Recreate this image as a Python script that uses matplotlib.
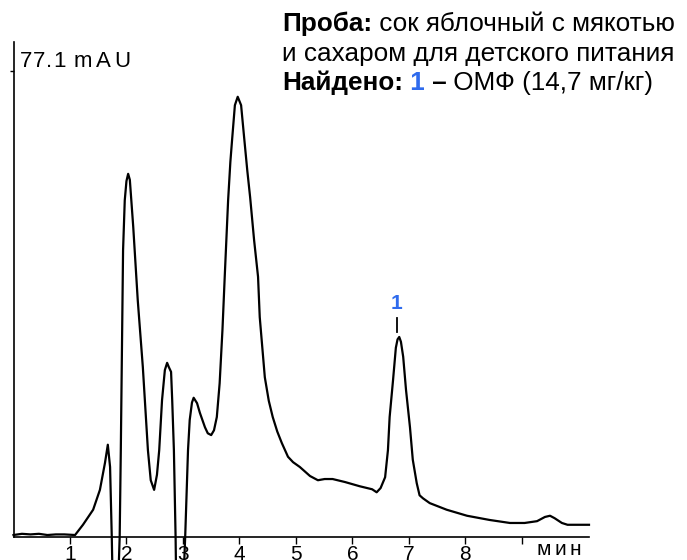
import numpy as np
import matplotlib
matplotlib.use("Agg")
from matplotlib import pyplot as plt
from matplotlib.transforms import IdentityTransform

plt.rcParams['font.family'] = ['Liberation Sans', 'DejaVu Sans']

# хроматограмма: время (мин) и сигнал (mAU)
t_min = [0.00, 0.15, 0.30, 0.45, 0.60, 0.75, 0.90, 1.09, 1.23, 1.41, 1.53, 1.62, 1.67,
         1.71, 1.74, 1.77, 1.83, 1.88, 1.90, 1.94, 1.97, 2.00, 2.03, 2.06, 2.12, 2.20, 2.29,
         2.38, 2.43, 2.49, 2.54, 2.58, 2.63, 2.68, 2.72, 2.75, 2.79, 2.81, 2.84, 2.87,
         2.89, 2.98, 3.04, 3.09, 3.12, 3.16, 3.19, 3.25, 3.30, 3.39, 3.44, 3.50, 3.55, 3.60,
         3.65, 3.70, 3.74, 3.80, 3.84, 3.87, 3.92, 3.97, 4.03, 4.08, 4.14, 4.19, 4.26, 4.33,
         4.36, 4.45, 4.52, 4.59, 4.67, 4.75, 4.86, 4.95, 5.07, 5.25, 5.39, 5.51, 5.65, 5.87,
         6.13, 6.35, 6.43, 6.50, 6.58, 6.63, 6.66, 6.72, 6.77, 6.80, 6.83, 6.86, 6.90, 6.95,
         7.02, 7.07, 7.14, 7.19, 7.25, 7.37, 7.67, 8.03, 8.43, 8.79, 9.05, 9.27, 9.41, 9.50,
         9.58, 9.71, 9.81, 10.19]
signal = [0.0, 0.2, 0.1, 0.2, 0.0, 0.1, 0.1, 0.0, 1.7, 4.2, 7.5, 12.0, 15.0,
          11.3, -0.3, -15.0, -15.0, -0.3, 14.1, 47.3, 55.6, 58.8, 60.0, 59.0, 51.2, 39.0, 27.9,
          14.1, 9.1, 7.5, 10.0, 14.1, 22.4, 27.4, 28.6, 27.9, 27.1, 22.4, 14.1, -0.3,
          -15.0, -15.0, -0.3, 14.1, 19.1, 22.0, 22.8, 21.9, 20.3, 17.9, 16.9, 16.6, 17.4, 19.6,
          25.2, 34.1, 42.9, 55.6, 62.0, 65.6, 71.4, 72.8, 71.4, 66.4, 60.5, 56.1, 49.0, 42.9,
          36.2, 26.2, 22.3, 19.6, 17.2, 15.3, 13.0, 12.1, 11.3, 9.8, 9.1, 9.3, 9.3, 8.8,
          8.1, 7.6, 7.1, 7.8, 9.6, 14.1, 19.6, 25.7, 31.1, 32.5, 32.9, 32.1, 29.6, 24.1,
          17.9, 12.5, 8.6, 6.6, 6.1, 5.3, 4.2, 3.2, 2.5, 2.0, 2.0, 2.3, 3.0, 3.2,
          2.8, 2.0, 1.7, 1.7]

peak_t = [6.83]
peak_names = ['1']
x_ticks = [1, 2, 3, 4, 5, 6, 7, 8, 9]
x_labels = ['1', '2', '3', '4', '5', '6', '7', '8', '']

fig = plt.figure(figsize=(6.87, 5.6), dpi=100)
ax = fig.add_axes([13.5 / 687, 23 / 560, 575.5 / 687, 495 / 560])
ax.plot(t_min, signal, color='black', lw=1.6, clip_on=False,
        solid_joinstyle='round')

ax.set_xlim(0, 10.19)
ax.set_ylim(-0.33, 81.9)
for s in ['top', 'right']:
    ax.spines[s].set_visible(False)
ax.spines['left'].set_linewidth(1.2)
ax.spines['bottom'].set_linewidth(1.2)

ax.set_xticks(x_ticks)
ax.set_xticklabels(x_labels, fontsize=15)
ax.tick_params(axis='x', direction='out', length=5, width=1, pad=1)
ax.set_yticks([77.1])
ax.set_yticklabels([''])
ax.tick_params(axis='y', direction='out', length=3, width=1)

r = fig.canvas.get_renderer()


def spaced(x, y, s, size, gap, va='baseline'):
    # текст с разрядкой, координаты в пикселях; возвращает x конца
    for ch in s:
        t = fig.text(x, y, ch, fontsize=size, va=va, ha='left',
                     transform=IdentityTransform())
        x += t.get_window_extent(r).width + gap
    return x


x_end = spaced(20, 560 - 67, '77.1 ', 16, 0.8)
spaced(x_end, 560 - 67, 'mAU', 16, 3.5)
spaced(537, 560 - 555, 'мин', 15, 3.0)

# метка пика
for t, n in zip(peak_t, peak_names):
    y = np.interp(t, t_min, signal)
    ax.plot([t - 0.04, t - 0.04], [y + 0.8, y + 3.1], color='black', lw=1.3)
    ax.text(t - 0.05, y + 4.0, n, color='#2f6bed', fontweight='bold',
            fontsize=15, ha='center', va='bottom')

# подпись сверху справа
lines = [
    [('Проба:', 'bold', 'black'), (' сок яблочный с мякотью', 'normal', 'black')],
    [('и сахаром для детского питания', 'normal', 'black')],
    [('Найдено:', 'bold', 'black'), (' 1', 'bold', '#2f6bed'), (' –', 'bold', 'black'),
     (' ОМФ (14,7 мг/кг)', 'normal', 'black')],
]
y0 = 560 - 31
for parts in lines:
    x = 282
    for s, w, c in parts:
        t = fig.text(x, y0, s, fontsize=18.8, fontweight=w, color=c,
                     va='baseline', ha='left', transform=IdentityTransform())
        x += t.get_window_extent(r).width
    y0 -= 29.5

fig.savefig('out.png', dpi=100)
